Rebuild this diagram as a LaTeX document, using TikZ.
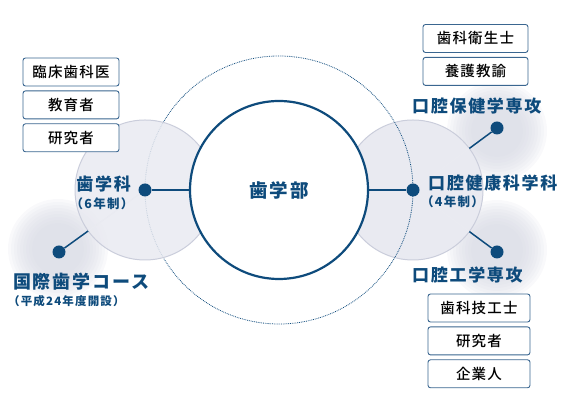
\documentclass[tikz,border=0pt]{standalone}
\usepackage{fontspec}
\setmainfont{Noto Sans CJK JP}
\newfontfamily\jpwide{Noto Sans CJK JP}[LetterSpace=10]
\newfontfamily\jpmid{Noto Sans CJK JP Medium}[LetterSpace=8]
\usetikzlibrary{positioning,calc}
\definecolor{navy}{HTML}{0E4B7C}
\definecolor{boxline}{HTML}{3A6690}
\definecolor{mist}{HTML}{E9EAF1}
\definecolor{mistline}{HTML}{CACDDB}
\definecolor{halo}{HTML}{D6D8E3}
\tikzset{
  role/.style={draw=boxline, fill=white, rounded corners=2.5pt, line width=0.9pt,
    minimum width=#1, minimum height=28pt, inner sep=0pt,
    font=\jpmid\fontsize{14.5}{15}\selectfont},
  role/.default=96pt,
  major/.style={text=navy, inner sep=0pt, font=\jpwide\bfseries\fontsize{17}{18}\selectfont},
  years/.style={text=navy, inner sep=0pt, font=\jpwide\bfseries\fontsize{12.5}{13}\selectfont},
  hub/.style={circle, fill=navy, inner sep=0pt, minimum size=13pt},
  glint/.style={white!60!mistline, line width=1.4pt},
  spoke/.style={navy, line width=1.5pt},
}
\begin{document}
\begin{tikzpicture}[x=1pt,y=1pt]
  \useasboundingbox (0,0) rectangle (575,403);
  \coordinate (mid) at (279,213);
  \coordinate (lc) at (145,213);
  \coordinate (rc) at (413,213);
  % soft glows behind the courses
  \foreach \p in {(58,154),(497,272),(497,153)}
    \foreach \r in {26,29,...,50}
      \fill[halo, opacity=0.14] \p circle (\r);
  \filldraw[fill=mist, draw=mistline, line width=1pt] (rc) circle (70);
  \draw[navy, densely dotted, line width=0.8pt] (mid) circle (134);
  \filldraw[fill=mist, draw=mistline, line width=1pt, fill opacity=0.85] (lc) circle (70);

  \node[circle, draw=navy, fill=white, line width=2.2pt, minimum size=178pt,
        text=navy, font=\jpwide\bfseries\fontsize{18.5}{19}\selectfont] (fac) at (mid) {歯学部};
  \node[hub] (dent) at (lc) {};
  \node[hub] (oral) at (rc) {};
  \node[hub] (intl) at (59,151) {};
  \node[hub] (hyg) at (497,275) {};
  \node[hub] (tech) at (497,151) {};

  \draw[navy, line width=1.8pt] (dent) -- (fac);
  \draw[navy, line width=1.8pt] (fac) -- (oral);
  \draw[glint] (dent) -- ($(lc)!70pt!(intl)$);
  \draw[spoke] ($(lc)!70pt!(intl)$) -- (intl);
  \draw[glint] (oral) -- ($(rc)!70pt!(hyg)$);
  \draw[spoke] ($(rc)!70pt!(hyg)$) -- (hyg);
  \draw[glint] (oral) -- ($(rc)!70pt!(tech)$);
  \draw[spoke] ($(rc)!70pt!(tech)$) -- (tech);

  % labels
  \node[major, anchor=east] (dentname) at (131,219) {歯学科};
  \node[years] (dentyears) at (102,199) {（6年制）};
  \node[major, anchor=west, font=\jpwide\bfseries\fontsize{18}{19}\selectfont] (intlname) at (13,121.5) {国際歯学コース};
  \node[years, anchor=west, font=\jpwide\bfseries\fontsize{11.5}{12}\selectfont] (intlyears) at (8,102) {（平成24年度開設）};
  \node[major, anchor=west] (oralname) at (428,220) {口腔健康科学科};
  \node[years, anchor=west] (oralyears) at (421,201.5) {（4年制）};
  \node[major, anchor=west] (hygname) at (412,297) {口腔保健学専攻};
  \node[major, anchor=west] (techname) at (412,128) {口腔工学専攻};

  % careers
  \node[role] (clin) at (71,331) {臨床歯科医};
  \node[role, below=4pt of clin] (teach) {教育者};
  \node[role, below=4pt of teach] (res) {研究者};
  \node[role=105pt] (dh) at (475.5,364.5) {歯科衛生士};
  \node[role=105pt, below=4pt of dh] (nurse) {養護教諭};
  \node[role=102pt] (dt) at (479,95) {歯科技工士};
  \node[role=102pt, below=4pt of dt] (res2) {研究者};
  \node[role=102pt, below=4pt of res2] (corp) {企業人};
\end{tikzpicture}
\end{document}
